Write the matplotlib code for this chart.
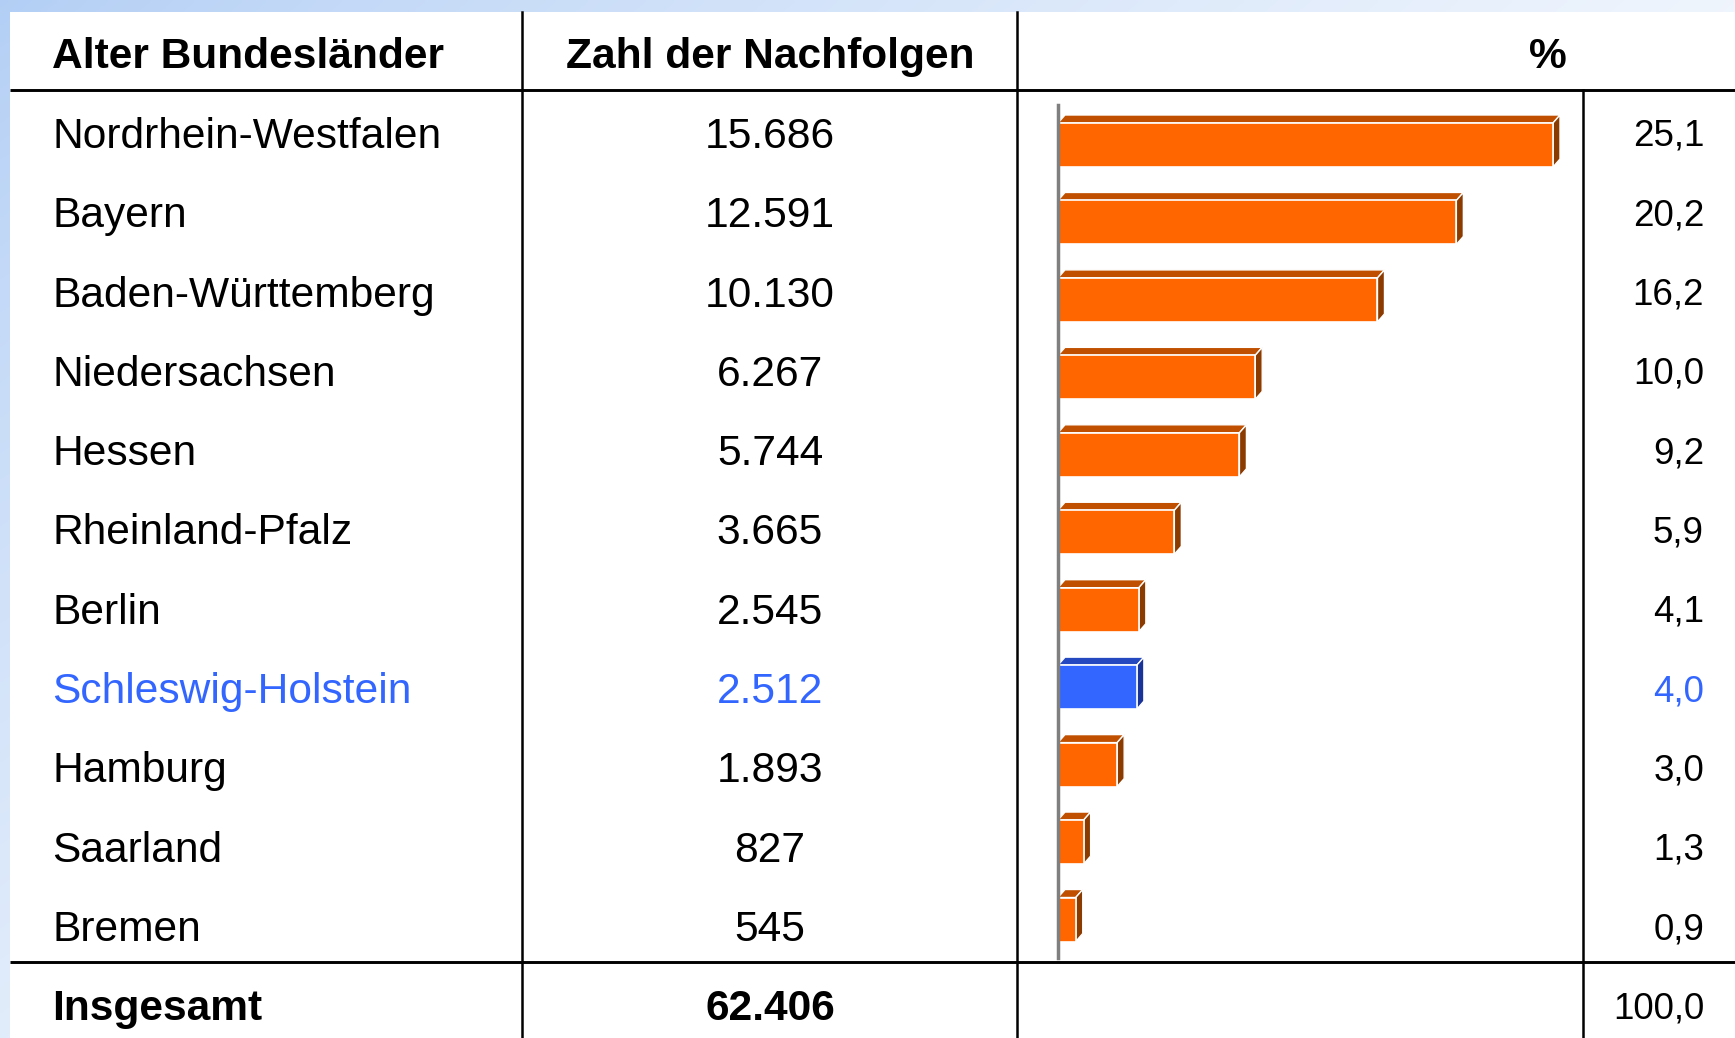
import numpy as np
import matplotlib
matplotlib.use("Agg")
import matplotlib.pyplot as plt
from matplotlib.patches import Polygon, Rectangle

plt.rcParams['font.family'] = ['Liberation Sans', 'DejaVu Sans']

laender = ["Nordrhein-Westfalen", "Bayern", "Baden-Württemberg", "Niedersachsen",
           "Hessen", "Rheinland-Pfalz", "Berlin", "Schleswig-Holstein",
           "Hamburg", "Saarland", "Bremen"]
nachfolgen = [15686, 12591, 10130, 6267, 5744, 3665, 2545, 2512, 1893, 827, 545]
anteil = [25.1, 20.2, 16.2, 10.0, 9.2, 5.9, 4.1, 4.0, 3.0, 1.3, 0.9]
gesamt_zahl = 62406
gesamt_anteil = 100.0
highlight = "Schleswig-Holstein"

headers = ["Alter Bundesländer", "Zahl der Nachfolgen", "%"]

W, H = 1735, 1038
BLUE_TXT = "#3366ff"
ORANGE = ("#ff6600", "#c05000", "#8b3a00")   # front, top, side
BLUE = ("#3366ff", "#2448c0", "#1a3399")


def de_int(n):
    return f"{n:,}".replace(",", ".")


def de_pct(p):
    return f"{p:.1f}".replace(".", ",")


fig = plt.figure(figsize=(W / 100, H / 100), dpi=100)

# full-figure axes in pixel units for the table
ax = fig.add_axes([0, 0, 1, 1])
ax.set_xlim(0, W)
ax.set_ylim(H, 0)
ax.axis("off")

# light blue gradient background (top-left)
yy, xx = np.mgrid[0:H:4, 0:W:4]
t = np.clip(0.75 * xx / W + 0.55 * yy / H, 0, 1) ** 0.8
c0 = np.array([0.70, 0.81, 0.96])
img = c0[None, None, :] * (1 - t[..., None]) + np.ones(3)[None, None, :] * t[..., None]
ax.imshow(img, extent=(0, W, H, 0), aspect="auto", zorder=0, interpolation="bilinear")
ax.add_patch(Rectangle((10, 12), W - 10, H - 12, facecolor="white", edgecolor="none", zorder=1))

# grid lines
ax.plot([10, W], [90, 90], color="black", lw=2.1, zorder=2, solid_capstyle="butt")
ax.plot([10, W], [962, 962], color="black", lw=2.1, zorder=2, solid_capstyle="butt")
for x in (522, 1017):
    ax.plot([x, x], [12, H], color="black", lw=1.8, zorder=2)
ax.plot([1583, 1583], [90, H], color="black", lw=1.8, zorder=2)

# header
big = 30.6
small = 26.5
ax.text(52, 68, headers[0], fontsize=big, fontweight="bold", ha="left", va="baseline", zorder=3)
ax.text(770, 68, headers[1], fontsize=big, fontweight="bold", ha="center", va="baseline", zorder=3)
ax.text(1548, 68, headers[2], fontsize=big, fontweight="bold", ha="center", va="baseline", zorder=3)

# rows
row0, row_step = 133, 79.3
for i, (land, n, p) in enumerate(zip(laender, nachfolgen, anteil)):
    yc = row0 + row_step * i
    col = BLUE_TXT if land == highlight else "black"
    ax.text(52, yc + 15, land, fontsize=big, color=col, ha="left", va="baseline", zorder=3)
    ax.text(770, yc + 15, de_int(n), fontsize=big, color=col, ha="center", va="baseline", zorder=3)
    ax.text(1704, yc + 13, de_pct(p), fontsize=small, color=col, ha="right", va="baseline", zorder=3)

yc = row0 + row_step * len(laender)
ax.text(52, yc + 15, "Insgesamt", fontsize=big, fontweight="bold", ha="left", va="baseline", zorder=3)
ax.text(770, yc + 15, de_int(gesamt_zahl), fontsize=big, fontweight="bold", ha="center", va="baseline", zorder=3)
ax.text(1704, yc + 13, de_pct(gesamt_anteil), fontsize=small, ha="right", va="baseline", zorder=3)

# bar chart axes
x0_px, x1_px = 1058, 1553          # value 0 and value 25.1
top_px, bot_px = 105, 958
bar0_px, bar_step_px = 145, 77.45
ax_b = fig.add_axes([x0_px / W, 1 - bot_px / H, (x1_px - x0_px) / W, (bot_px - top_px) / H])
xmax = max(anteil)
ax_b.set_xlim(0, xmax)
ax_b.set_ylim((bot_px - bar0_px) / bar_step_px, (top_px - bar0_px) / bar_step_px)
ax_b.axis("off")

bar_h = 44 / bar_step_px
dx = 7 / (x1_px - x0_px) * xmax
dy = 8 / bar_step_px

ypos = np.arange(len(anteil))
colors = [BLUE[0] if l == highlight else ORANGE[0] for l in laender]
ax_b.barh(ypos, anteil, height=bar_h, color=colors, edgecolor="white", linewidth=1.2,
          zorder=3, clip_on=False)

for i, (land, v) in enumerate(zip(laender, anteil)):
    front, topc, side = BLUE if land == highlight else ORANGE
    yt, yb = i - bar_h / 2, i + bar_h / 2
    ax_b.add_patch(Polygon([(0, yt), (v, yt), (v + dx, yt - dy), (dx, yt - dy)],
                           closed=True, facecolor=topc, edgecolor="white", lw=1.0,
                           zorder=2, clip_on=False))
    ax_b.add_patch(Polygon([(v, yt), (v, yb), (v + dx, yb - dy), (v + dx, yt - dy)],
                           closed=True, facecolor=side, edgecolor="white", lw=1.0,
                           zorder=2, clip_on=False))

# grey wall at zero
ax_b.plot([0, 0], [ax_b.get_ylim()[0], ax_b.get_ylim()[1]], color="#7f7f7f", lw=2.5,
          zorder=4, clip_on=False)

fig.savefig("out.png", dpi=100)
